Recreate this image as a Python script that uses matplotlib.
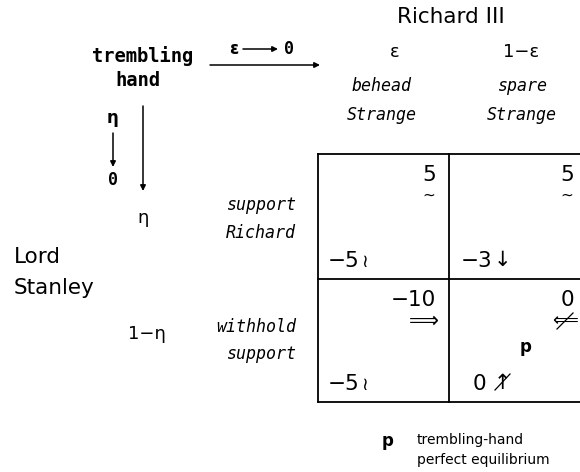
import matplotlib
matplotlib.use("Agg")
import matplotlib.pyplot as plt

# players, strategies, trembles
row_player = "Lord\nStanley"
col_player = "Richard III"
row_strategies = ["support\nRichard", "withhold\nsupport"]
col_strategies = ["behead\nStrange", "spare\nStrange"]
row_probs = ["η", "1−η"]
col_probs = ["ε", "1−ε"]

# payoffs[row][col] for Stanley (lower left) and Richard (upper right)
stanley_payoffs = [["−5", "−3"], ["−5", "0"]]
richard_payoffs = [["5", "5"], ["−10", "0"]]
# little marks next to the payoffs
stanley_marks = [["≀", "↓"], ["≀", "↑"]]
richard_marks = [["~", "~"], ["⟹", "⟸"]]
struck = [[False, False], [False, True]]

W, H = 580, 472
fig = plt.figure(figsize=(W / 100, H / 100), dpi=100)
ax = fig.add_axes([0, 0, 1, 1])
ax.set_xlim(0, W)
ax.set_ylim(H, 0)
ax.axis("off")

MONO = "DejaVu Sans Mono"

# payoff table grid
x_left, x_mid, x_right = 318, 449, 590
y_top, y_mid, y_bot = 154, 279, 402
lw = 1.3
for x in [x_left, x_mid]:
    ax.plot([x, x], [y_top, y_bot], color="black", lw=lw)
for y in [y_top, y_mid, y_bot]:
    ax.plot([x_left, x_right], [y, y], color="black", lw=lw)

# player names
ax.text(451, 17, col_player, ha="center", va="center", fontsize=15.5)
ax.text(14, 257, row_player.split("\n")[0], ha="left", va="center", fontsize=15.5)
ax.text(14, 288, row_player.split("\n")[1], ha="left", va="center", fontsize=15.5)

# column probabilities and strategies
col_centers = [395, 521]
for i in range(2):
    ax.text(col_centers[i], 52, col_probs[i], ha="center", va="center", fontsize=13)
    top, bottom = col_strategies[i].split("\n")
    cx = [382, 522][i]
    ax.text(cx, 86, top, ha="center", va="center", fontsize=12, style="italic", family=MONO)
    ax.text(cx, 115, bottom, ha="center", va="center", fontsize=12, style="italic", family=MONO)

# row probabilities and strategies
row_prob_pos = [(143, 218), (147, 334)]
row_label_y = [(205, 233), (327, 354)]
for j in range(2):
    ax.text(*row_prob_pos[j], row_probs[j], ha="center", va="center", fontsize=13)
    top, bottom = row_strategies[j].split("\n")
    ax.text(296, row_label_y[j][0], top, ha="right", va="center", fontsize=12, style="italic", family=MONO)
    ax.text(296, row_label_y[j][1], bottom, ha="right", va="center", fontsize=12, style="italic", family=MONO)

# trembling hand note with limit arrows
ax.text(143, 56, "trembling", ha="center", va="center", fontsize=13.5, fontweight="bold", family=MONO)
ax.text(138, 81, "hand", ha="center", va="center", fontsize=13.5, fontweight="bold", family=MONO)
arrow = dict(arrowstyle="-|>", color="black", lw=1.1, mutation_scale=8, shrinkA=0, shrinkB=0)
ax.annotate("", xy=(320, 65), xytext=(210, 65), arrowprops=arrow)
ax.annotate("", xy=(143, 191), xytext=(143, 106), arrowprops=arrow)
ax.text(234, 49, "ε", ha="center", va="center", fontsize=12, fontweight="bold")
ax.annotate("", xy=(278, 49), xytext=(243, 49), arrowprops=arrow)
ax.text(289, 49, "0", ha="center", va="center", fontsize=12, fontweight="bold", family=MONO)
ax.text(113, 118, "η", ha="center", va="center", fontsize=12, fontweight="bold")
ax.annotate("", xy=(113, 167), xytext=(113, 133), arrowprops=arrow)
ax.text(113, 180, "0", ha="center", va="center", fontsize=12, fontweight="bold", family=MONO)

# payoffs in the cells
richard_right = [436, 574]
stanley_left = [[328, 461], [328, 473]]
for j in range(2):
    y0 = [y_top, y_mid][j]
    y1 = [y_mid, y_bot][j]
    for i in range(2):
        rx = richard_right[i]
        ry = y0 + 21
        ax.text(rx, ry, richard_payoffs[j][i], ha="right", va="center", fontsize=15.5)
        mark = richard_marks[j][i]
        if mark == "~":
            ax.text(rx - 7, ry + 20, mark, ha="center", va="center", fontsize=11)
        elif i == 0:
            ax.text(rx - 12, ry + 21, mark, ha="center", va="center", fontsize=15)
        else:
            ax.text(578, ry + 21, mark, ha="right", va="center", fontsize=13)
            if struck[j][i]:
                ax.plot([557, 573], [ry + 29, ry + 13], color="black", lw=0.9)

        lx = stanley_left[j][i]
        ly = y1 - 18
        ax.text(lx, ly, stanley_payoffs[j][i], ha="left", va="center", fontsize=15.5)
        mark = stanley_marks[j][i]
        if mark == "≀":
            ax.text(lx + 37, ly + 1, mark, ha="center", va="center", fontsize=13)
        else:
            mx = 502
            ax.text(mx, ly - 1, mark, ha="center", va="center", fontsize=15)
            if struck[j][i]:
                ax.plot([mx - 7, mx + 8], [ly + 6, ly - 10], color="black", lw=0.9)

# equilibrium marker and legend
ax.text(526, 347, "p", ha="center", va="center", fontsize=12, fontweight="bold")
ax.text(388, 441, "p", ha="center", va="center", fontsize=12, fontweight="bold")
ax.text(417, 440, "trembling-hand", ha="left", va="center", fontsize=10)
ax.text(417, 460, "perfect equilibrium", ha="left", va="center", fontsize=10)

fig.savefig("out.png", dpi=100)
